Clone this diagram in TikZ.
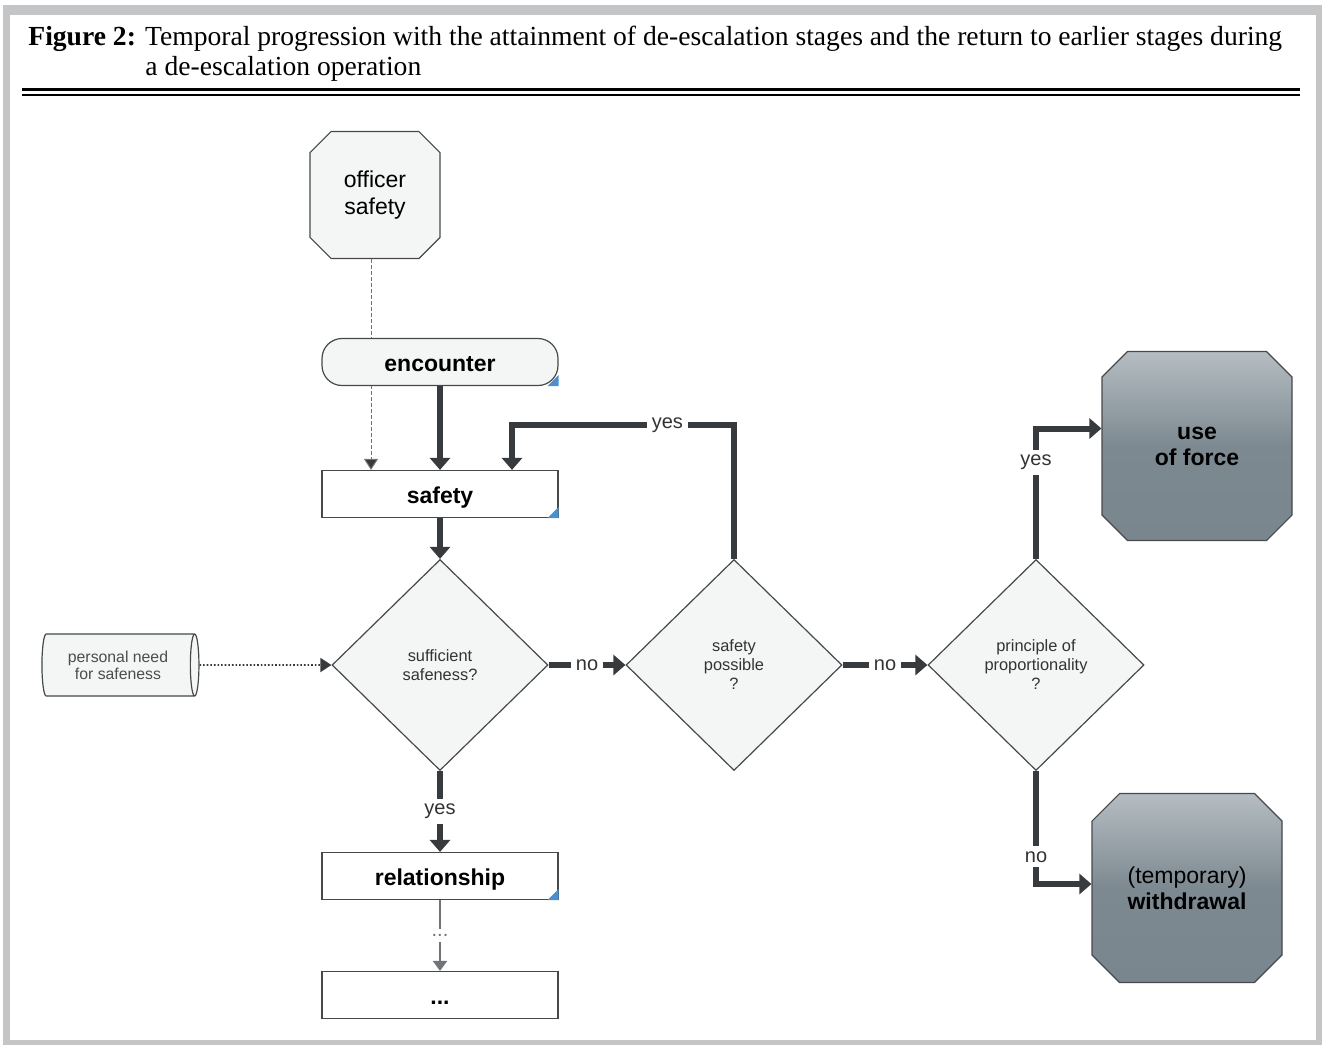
\documentclass[tikz,border=0pt]{standalone}
\usepackage{fontspec}
\setmainfont{Liberation Serif}
\setsansfont{Liberation Sans}
\usetikzlibrary{shapes.geometric,shapes.misc,arrows.meta}

\definecolor{framegray}{HTML}{C4C5C7}
\definecolor{edge}{HTML}{383B3E}
\definecolor{border}{HTML}{46494C}
\definecolor{paper}{HTML}{F4F5F5}
\definecolor{cornerblue}{HTML}{4A8FD0}
\definecolor{steeltop}{HTML}{B5BDC2}
\definecolor{steelmid}{HTML}{7D8991}
\definecolor{steelbot}{HTML}{7A868E}
\definecolor{dotgray}{HTML}{707478}

\tikzset{
  stage/.style={draw=border, line width=0.6pt, fill=white, minimum width=118pt,
    minimum height=23.5pt, inner sep=0pt, text height=9pt, text depth=0pt,
    font=\sffamily\fontsize{11.5}{13}\selectfont\bfseries},
  octa/.style={chamfered rectangle, chamfered rectangle xsep=7.5pt, draw=border,
    line width=0.6pt, fill=paper, minimum width=65pt, minimum height=63.5pt, inner sep=0pt,
    align=center, font=\sffamily\fontsize{11.5}{13.5}\selectfont},
  outcome/.style={chamfered rectangle, chamfered rectangle xsep=11pt, draw=border,
    line width=0.6pt, top color=steeltop, bottom color=steelbot, middle color=steelmid,
    minimum width=95pt, minimum height=94.5pt, inner sep=0pt, align=center,
    font=\sffamily\fontsize{11.5}{13}\selectfont},
  decision/.style={diamond, draw=border, line width=0.6pt, fill=paper, minimum width=108pt,
    minimum height=105.5pt, inner sep=0pt, align=center, text=black!80,
    font=\sffamily\fontsize{8.2}{9.5}\selectfont},
  need/.style={cylinder, shape aspect=0.3, draw=border, line width=0.6pt, fill=paper,
    minimum width=31pt, minimum height=78.5pt, inner sep=0pt, align=center, text=black!70,
    font=\sffamily\fontsize{7.9}{8.5}\selectfont},
  lbl/.style={fill=white, inner sep=2.5pt, text=black!80, font=\sffamily\fontsize{10}{12}\selectfont},
  flow/.style={draw=edge, line width=3pt, -{Triangle[length=6pt,width=10pt]}},
  thinflow/.style={draw=edge, line width=0.8pt, densely dotted, -{Triangle[length=5.5pt,width=7pt]}},
  officerline/.style={draw=black!55, line width=0.5pt, dash pattern=on 2pt off 1pt,
    -{Triangle[length=5.5pt,width=7pt,fill=edge]}},
  moreflow/.style={draw=dotgray, line width=1pt, -{Triangle[length=5pt,width=7pt]}}
}

\begin{document}
\begin{tikzpicture}[x=0.5pt,y=-0.5pt]

    \useasboundingbox (0,0) rectangle (1325,1045);
    \fill[framegray] (3,5) rectangle (1322,1045);
    \fill[white] (10,15) rectangle (1316,1040);

    % caption
    \path (28,45) node (capa) [anchor=base west, inner sep=0pt, font=\fontsize{13.8}{15}\selectfont]
                {\textbf{Figure 2:} Temporal progression with the attainment of de-escalation stages and the return to earlier stages during}
          (145,75) node (capb) [anchor=base west, inner sep=0pt, font=\fontsize{13.8}{15}\selectfont]
                {a de-escalation operation};
    \draw[line width=1.5pt] (22,89) -- (1300,89);
    \draw[line width=0.75pt] (22,95) -- (1300,95);

    \path   (375,195) node (off) [octa] {officer\\safety}
            (440,494) node (saf) [stage] {safety};

    \draw[officerline] ([xshift=-2pt]off.south) -- ([xshift=-2pt]off.south |- saf.north);

    \path   (440,362) node (enc) [stage, fill=paper, rounded corners=10pt] {encounter}
            (440,665) node (suff) [decision] {sufficient\\safeness?}
            (734,665) node (poss) [decision] {safety\\possible\\?}
            (1036,665) node (prop) [decision] {principle of\\proportionality\\?}
            (118,665) node (need) [need] {personal need\\for safeness}
            (440,876) node (rel) [stage] {relationship}
            (440,995) node (more) [stage] {...}
            (1197,446) node (force) [outcome] {\bfseries use\\\bfseries of force}
            (1187,888) node (wd) [outcome] {(temporary)\\\bfseries withdrawal};

    \foreach \n in {enc,saf,rel}
        \fill[cornerblue] (\n.south east) -- ++(0,-11) -- ++(-11,11) -- cycle;

    \draw[flow] (enc) -- (saf);
    \draw[flow] (saf) -- (suff);
    \draw[flow] (suff) -- node[lbl] {no} (poss);
    \draw[flow] (poss) -- node[lbl] {no} (prop);
    \draw[flow] (suff) -- node[lbl] {yes} (rel);
    \draw[flow] (poss.north) -- ++(0,-134) -| node[lbl, pos=0.15] {yes} ([xshift=36pt]saf.north);
    \draw[flow] (prop.north) |- node[lbl, pos=0.37] {yes} ([yshift=8.75pt]force.west);
    \draw[flow] (prop.south) |- node[lbl, pos=0.38] {no} ([yshift=2pt]wd.west);
    \draw[thinflow] (need) -- (suff);
    \draw[moreflow] (rel) -- node[lbl, text=dotgray] {...} (more);

\end{tikzpicture}
\end{document}
